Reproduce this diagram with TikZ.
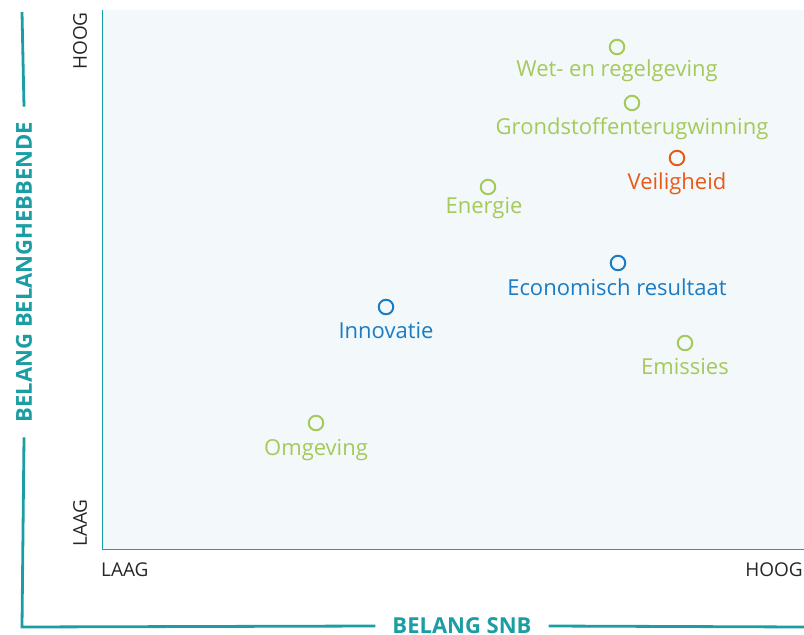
\documentclass[tikz,border=0pt]{standalone}
\usepackage{fontspec}
\setmainfont{Open Sans}
\definecolor{teal1}{HTML}{1A9DA3}
\definecolor{bgc}{HTML}{F3F9FA}
\definecolor{grn}{HTML}{A5C95A}
\definecolor{org}{HTML}{E85A1A}
\definecolor{blu}{HTML}{1A7CC4}
\begin{document}
\begin{tikzpicture}[x=1pt,y=-1pt,
  dot/.style={circle,draw,line width=2pt,minimum size=14.5pt,inner sep=0pt},
  lbl/.style={font=\fontsize{22}{26}\selectfont,inner sep=0pt,anchor=base},
  axl/.style={font=\fontsize{19}{22}\selectfont,inner sep=0pt,text=black!85},
  ttl/.style={font=\bfseries\fontsize{22}{25}\selectfont,text=teal1,inner sep=0pt}]
\useasboundingbox (0,0) rectangle (804,635);
\fill[bgc] (102,10) rectangle (804,549);
\draw[teal1,line width=1pt] (102,10) |- (804,549);
% frame brackets
\coordinate (tl) at (22,12);
\coordinate (bl) at (22,627);
\coordinate (br) at (804,627);
\node[ttl,rotate=90] (ylab) at (24,272) {BELANG BELANGHEBBENDE};
\node[ttl] (xlab) at (462,626) {BELANG SNB};
\draw[teal1,line width=2.8pt] (tl) -- ([yshift=15pt]ylab.east);
\draw[teal1,line width=2.8pt] ([yshift=-15pt]ylab.west) -- (bl) -- ([xshift=-17pt]xlab.west);
\draw[teal1,line width=2.8pt] ([xshift=17pt]xlab.east) -- (br);
% axis ticks labels
\node[axl,rotate=90] (yh) at (80,41) {HOOG};
\node[axl,rotate=90] (yl) at (80,523) {LAAG};
\node[axl,anchor=west] (xl) at (101,570) {LAAG};
\node[axl,anchor=east] (xh) at (803,570) {HOOG};
% points
\node[dot,draw=grn] (p1) at (617,47) {};
\node[lbl,text=grn] (l1) at (617,76) {Wet- en regelgeving};
\node[dot,draw=grn] (p2) at (632,103) {};
\node[lbl,text=grn] (l2) at (632,134) {Grondstoffenterugwinning};
\node[dot,draw=org] (p3) at (677,158) {};
\node[lbl,text=org] (l3) at (677,189) {Veiligheid};
\node[dot,draw=grn] (p4) at (488,187) {};
\node[lbl,text=grn] (l4) at (484,213) {Energie};
\node[dot,draw=blu] (p5) at (618,263) {};
\node[lbl,text=blu] (l5) at (617,295) {Economisch resultaat};
\node[dot,draw=blu] (p6) at (386,307) {};
\node[lbl,text=blu] (l6) at (386,338) {Innovatie};
\node[dot,draw=grn] (p7) at (685,343) {};
\node[lbl,text=grn] (l7) at (685,374) {Emissies};
\node[dot,draw=grn] (p8) at (316,423) {};
\node[lbl,text=grn] (l8) at (316,455) {Omgeving};
\end{tikzpicture}
\end{document}
